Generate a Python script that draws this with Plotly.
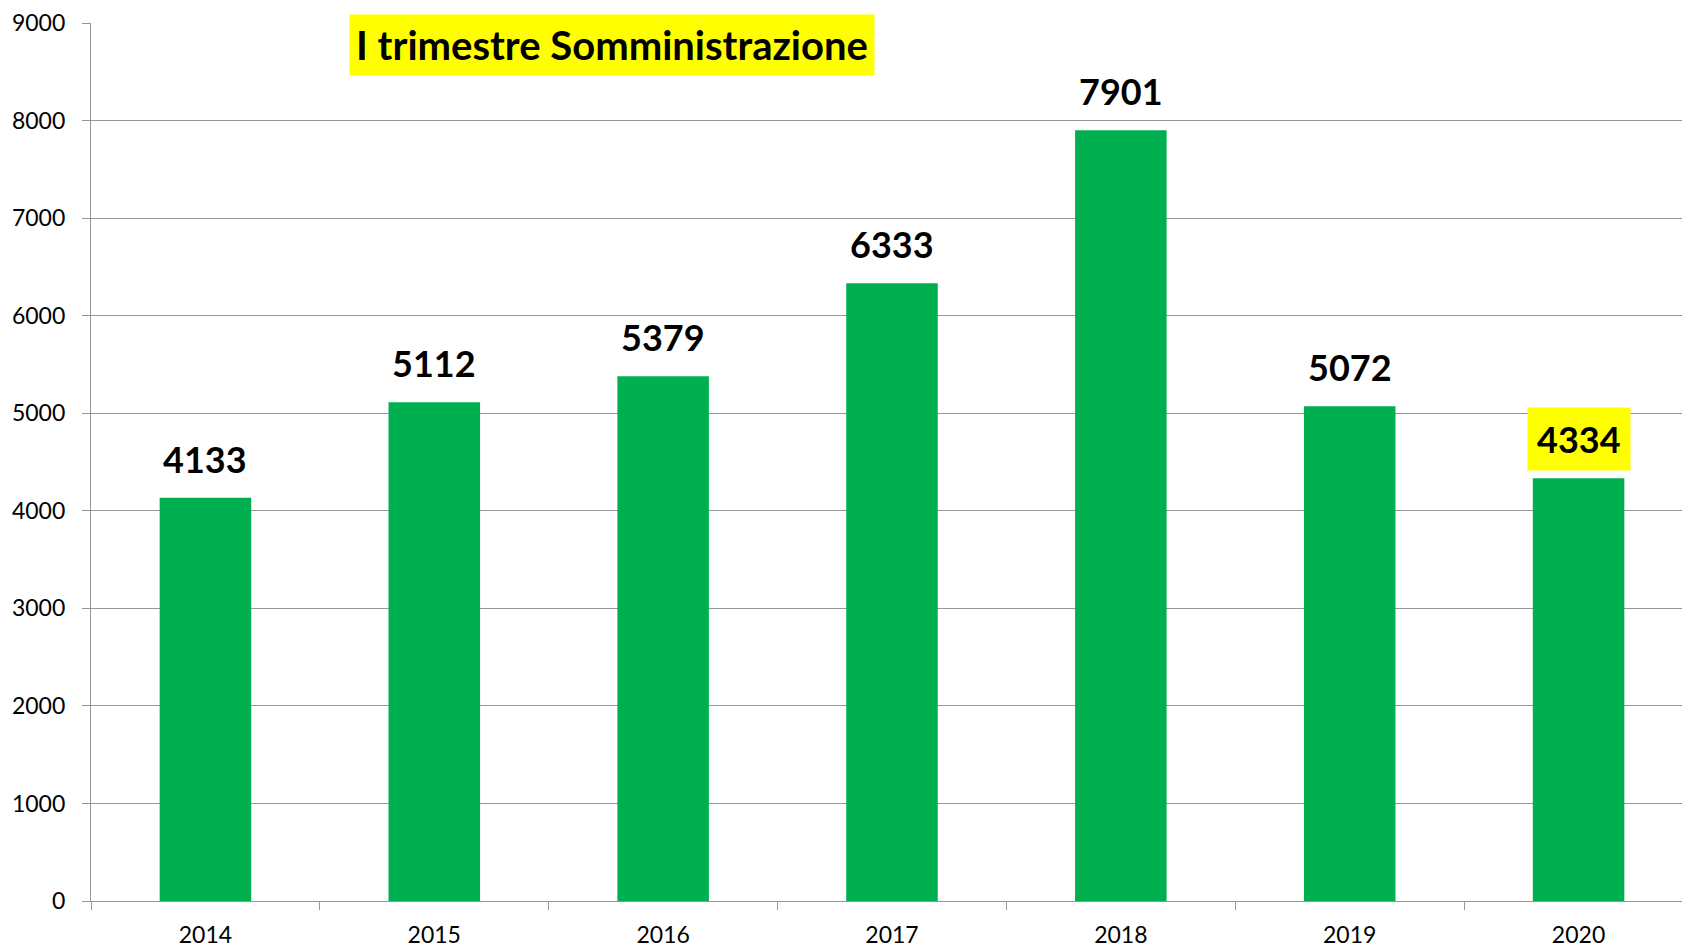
import plotly.graph_objects as go

years = ["2014", "2015", "2016", "2017", "2018", "2019", "2020"]
values = [4133, 5112, 5379, 6333, 7901, 5072, 4334]
title_text = "I trimestre Somministrazione"
highlight_year = "2020"

GREEN = "#00B050"
GRID = "#969696"
FONT = "Lato"

fig = go.Figure()
fig.add_trace(go.Bar(x=years, y=values, marker=dict(color=GREEN, line=dict(width=0)),
                     hoverinfo="x+y"))

annotations = []
for i, (yr, v) in enumerate(zip(years, values)):
    annotations.append(dict(
        x=i, y=v, xref="x", yref="y", text=f"<b>{v}</b>", showarrow=False,
        xanchor="center", yanchor="bottom", yshift=7, borderpad=9,
        bgcolor="#FFFF00" if yr == highlight_year else "rgba(0,0,0,0)",
        font=dict(family=FONT, size=36, color="black"),
    ))
annotations.append(dict(
    x=0.3272, y=0.9744, xref="paper", yref="paper", text=f"<b>{title_text}</b>",
    showarrow=False, xanchor="center", yanchor="middle", borderpad=6,
    bgcolor="#FFFF00", font=dict(family=FONT, size=40, color="black"),
))

fig.update_layout(
    width=1682, height=947,
    margin=dict(l=91, r=0, t=23, b=46, autoexpand=False),
    paper_bgcolor="white", plot_bgcolor="white",
    bargap=0.6, showlegend=False,
    annotations=annotations,
    font=dict(family=FONT, color="black"),
)
fig.update_xaxes(
    type="category", range=[-0.5, len(years) - 0.548], tickangle=0,
    showline=True, linecolor=GRID, linewidth=1.3,
    ticks="outside", tickson="boundaries", ticklen=8, tickcolor=GRID, tickwidth=1.3,
    tickfont=dict(family=FONT, size=23, color="black"), ticklabelstandoff=13,
    showgrid=False, zeroline=False, automargin=False,
)
fig.update_yaxes(
    range=[0, 9000], dtick=1000, showline=True, linecolor=GRID, linewidth=1.3,
    ticks="outside", ticklen=8, tickcolor=GRID, tickwidth=1.3,
    tickfont=dict(family=FONT, size=23, color="black"), ticklabelstandoff=12,
    showgrid=True, gridcolor=GRID, gridwidth=1.3, zeroline=False, automargin=False,
)

fig.write_html(
    "out.html",
    config={"displayModeBar": False},
    post_script="document.body.style.margin='0';document.body.style.overflow='hidden';",
)
